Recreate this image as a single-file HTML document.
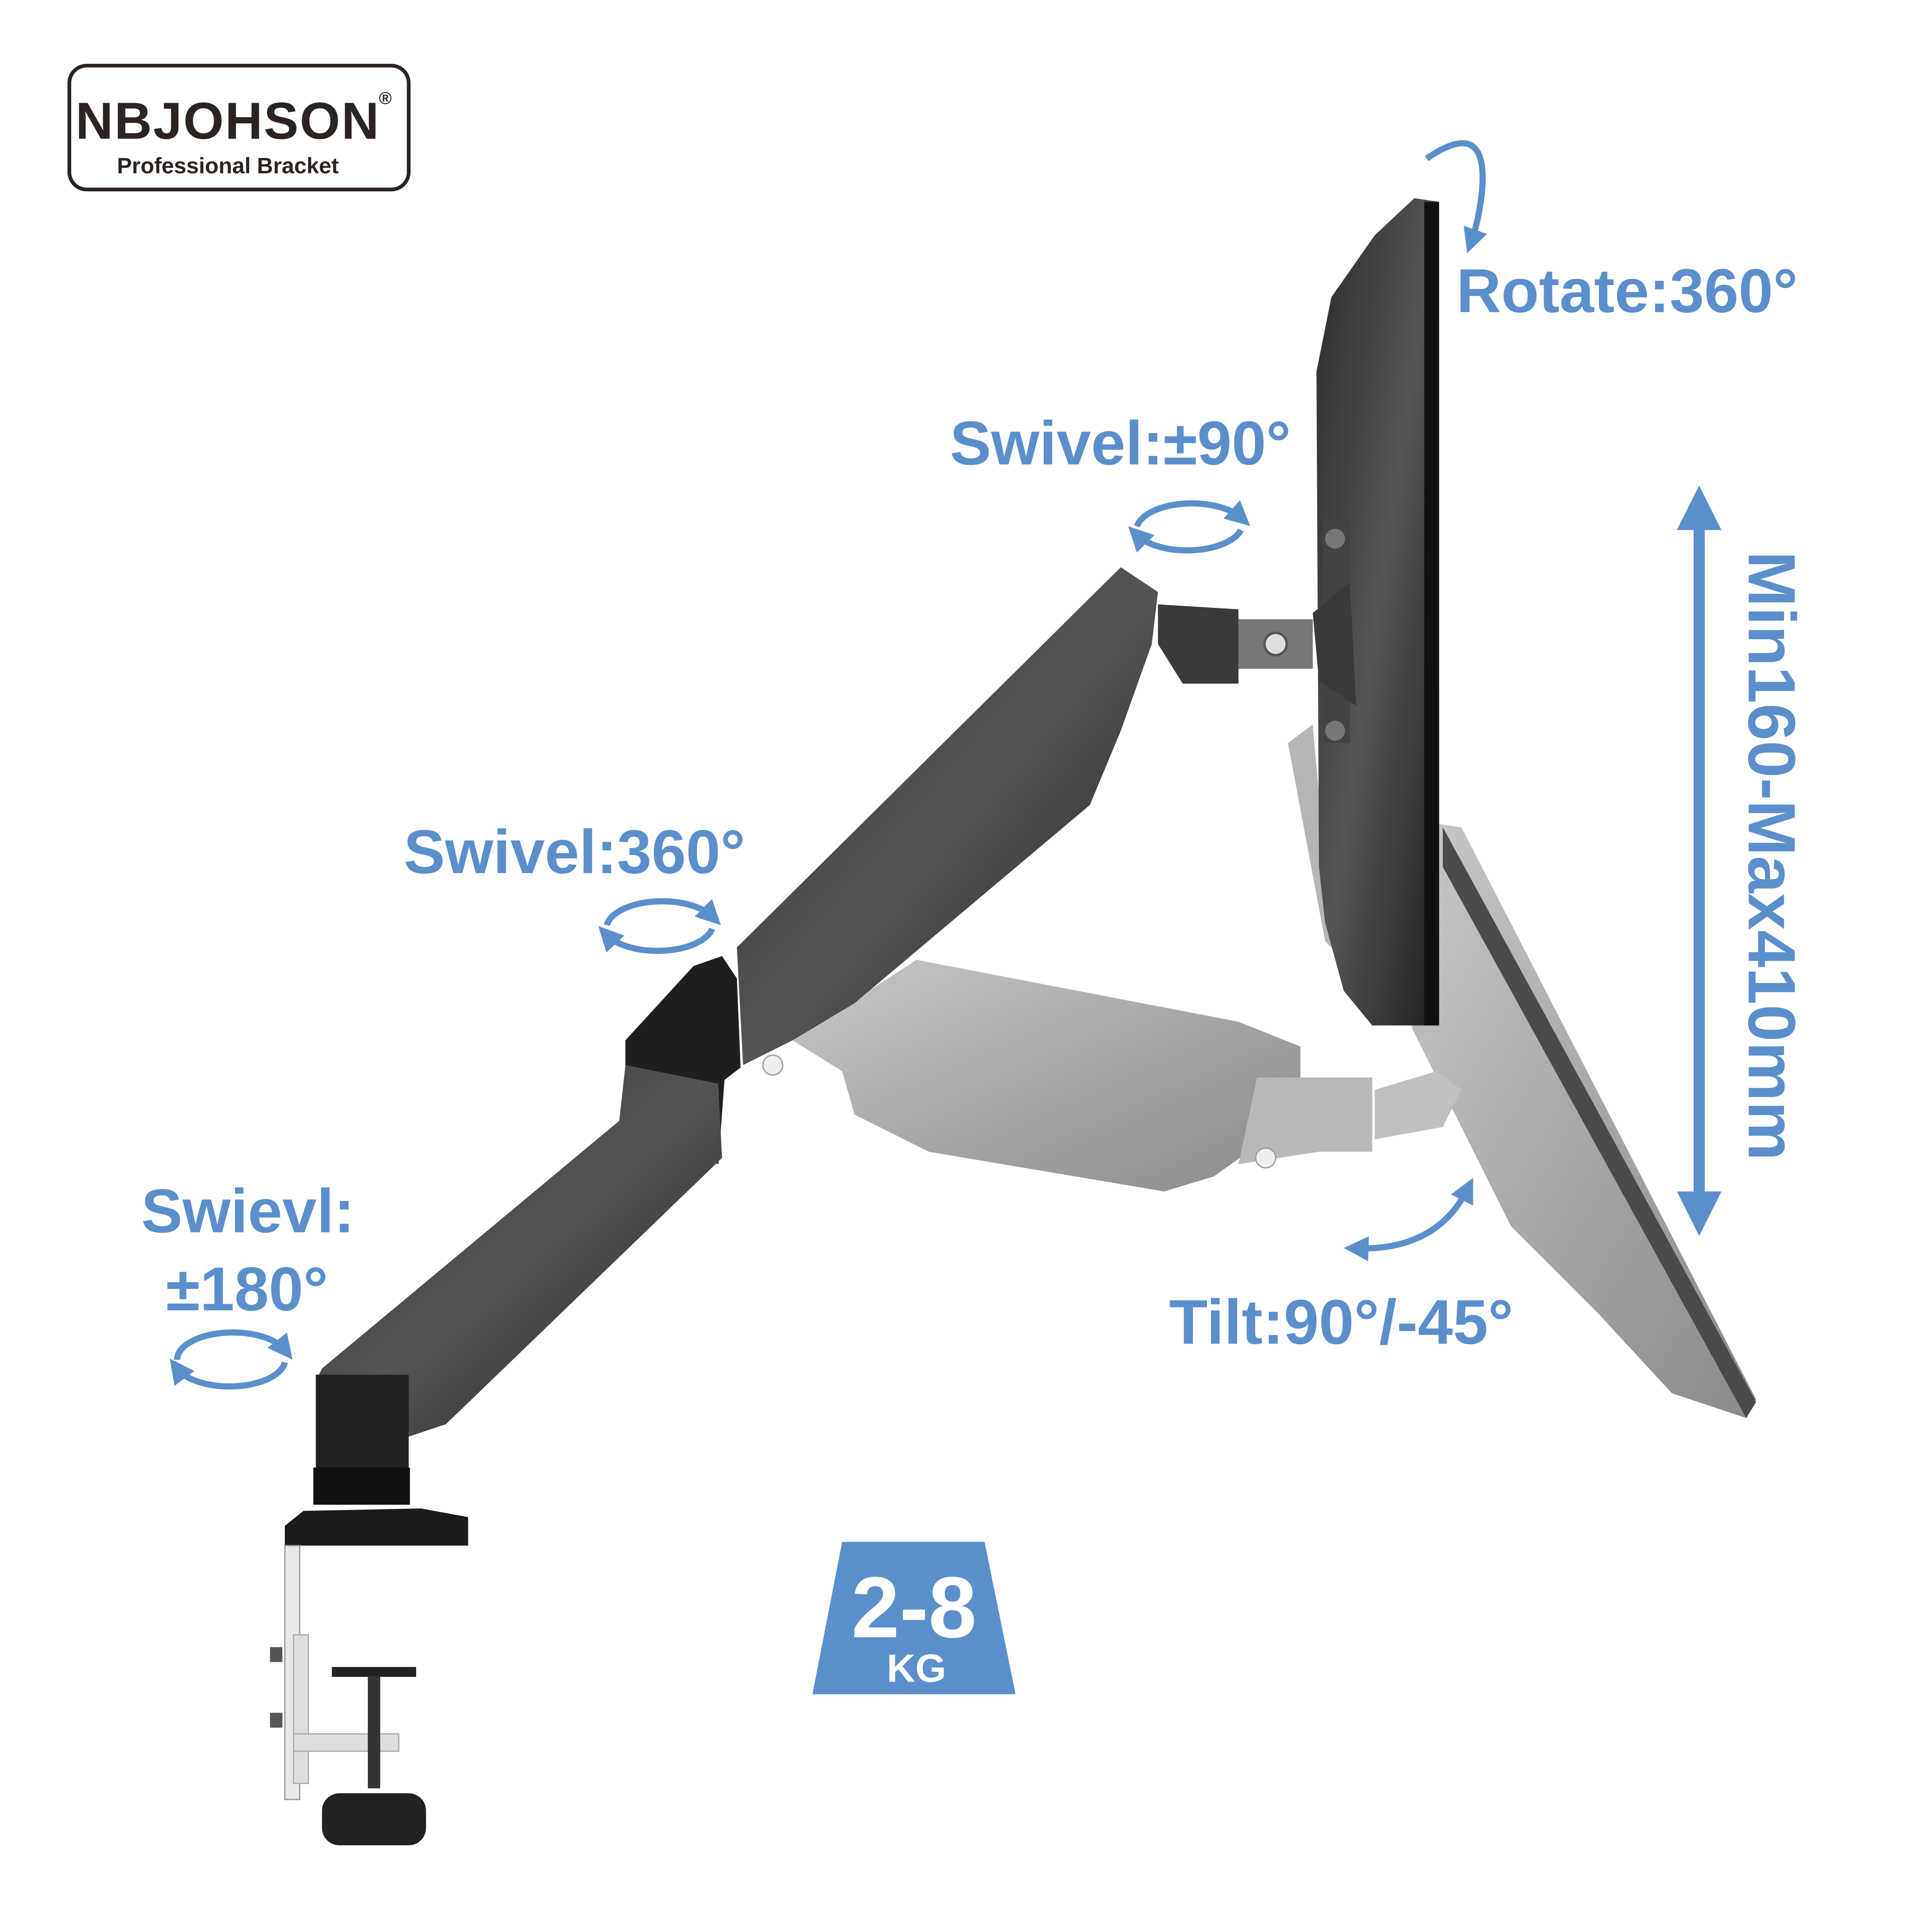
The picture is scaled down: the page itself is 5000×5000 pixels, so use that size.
<!DOCTYPE html>
<html><head><meta charset="utf-8"><style>
html,body{margin:0;padding:0;background:#fff;width:5000px;height:5000px;overflow:hidden}
svg{display:block}
text{font-family:"Liberation Sans",sans-serif;font-weight:bold}
</style></head><body>
<svg width="5000" height="5000" viewBox="0 0 1560 1560" xmlns="http://www.w3.org/2000/svg">
<defs>
<linearGradient id="dk" x1="0" y1="0" x2="1" y2="1"><stop offset="0" stop-color="#2a2a2a"/><stop offset="0.5" stop-color="#555"/><stop offset="1" stop-color="#1e1e1e"/></linearGradient>
<linearGradient id="lt" x1="0" y1="0" x2="1" y2="1"><stop offset="0" stop-color="#c8c8c8"/><stop offset="0.5" stop-color="#a8a8a8"/><stop offset="1" stop-color="#8a8a8a"/></linearGradient>
<marker id="ah" viewBox="0 0 10 10" refX="5" refY="5" markerWidth="4" markerHeight="4" orient="auto-start-reverse"><path d="M0,0 L10,5 L0,10 z" fill="#5b8fcc"/></marker>
</defs>
<rect width="1560" height="1560" fill="#fff"/>
<rect x="56" y="53" width="274" height="100" rx="14" fill="#fff" stroke="#2b2420" stroke-width="3"/>
<text x="184" y="112" font-size="42" text-anchor="middle" fill="#2b2420" letter-spacing="1">NBJOHSON</text>
<text x="306" y="84" font-size="14" fill="#2b2420" font-weight="normal">®</text>
<text x="184" y="140" font-size="18" text-anchor="middle" fill="#2b2420" font-weight="normal">Professional Bracket</text>

<polygon points="1160,665 1180,668 1418,1130 1410,1145 1350,1125 1290,1060 1220,990 1165,880 1140,830" fill="url(#lt)"/>
<polygon points="1165,668 1418,1132 1410,1145 1165,700" fill="#4a4a4a"/>
<polygon points="1040,600 1060,585 1070,700 1090,780 1070,760" fill="#b5b5b5"/>

<polygon points="640,840 740,775 1000,825 1050,845 1050,900 980,950 940,962 750,930 690,900 680,865" fill="url(#lt)"/>
<polygon points="1015,870 1108,870 1108,930 1065,930 1000,940" fill="#b8b8b8"/>
<circle cx="1138" cy="903" r="9" fill="#ddd" stroke="#777" stroke-width="2"/>
<polygon points="1110,880 1160,865 1180,880 1165,910 1110,920" fill="#c0c0c0"/>
<circle cx="1022" cy="935" r="8" fill="#eee" stroke="#999"/>
<circle cx="624" cy="860" r="8" fill="#eee" stroke="#999"/>

<polygon points="1142,160 1162,163 1162,828 1140,828 1108,828 1085,800 1070,745 1065,700 1063,300 1075,240 1110,190" fill="url(#dk)"/>
<rect x="1150" y="163" width="12" height="665" fill="#111"/>
<rect x="1068" y="420" width="22" height="180" fill="#444"/>
<circle cx="1078" cy="435" r="8" fill="#777"/><circle cx="1078" cy="590" r="8" fill="#777"/>

<polygon points="595,765 905,458 935,478 930,520 905,590 880,650 690,810 640,840 600,860" fill="url(#dk)"/>
<polygon points="935,488 1000,492 1000,552 955,552 935,520" fill="#3a3a3a"/>
<rect x="1000" y="500" width="60" height="40" fill="#777"/>
<circle cx="1030" cy="520" r="9" fill="#ddd" stroke="#555" stroke-width="2"/>
<polygon points="1060,495 1090,470 1095,570 1065,550" fill="#3a3a3a"/>

<polygon points="505,840 560,780 583,772 595,790 598,862 585,872 580,940 505,915" fill="#1f1f1f"/>
<polygon points="505,860 580,875 583,935 360,1150 330,1160 290,1160 255,1115 260,1105 500,905" fill="url(#dk)"/>
<rect x="255" y="1110" width="75" height="80" fill="#222"/>
<rect x="253" y="1185" width="78" height="30" fill="#111"/>
<polygon points="245,1220 340,1218 378,1225 378,1248 230,1248 230,1232" fill="#1a1a1a"/>
<rect x="230" y="1248" width="12" height="205" fill="#e8e8e8" stroke="#999"/>
<rect x="237" y="1320" width="12" height="120" fill="#ddd" stroke="#aaa"/>
<rect x="237" y="1400" width="85" height="14" fill="#ddd" stroke="#aaa"/>
<rect x="218" y="1330" width="10" height="12" fill="#555"/><rect x="218" y="1383" width="10" height="12" fill="#555"/>
<rect x="268" y="1346" width="68" height="8" fill="#222"/>
<rect x="297" y="1354" width="10" height="90" fill="#333"/>
<rect x="260" y="1448" width="84" height="42" rx="14" fill="#222"/>

<g fill="#5b8fcc">
<text x="1176" y="252" font-size="50">Rotate:360°</text>
<text x="767" y="375" font-size="50">Swivel:±90°</text>
<text x="326" y="705" font-size="50">Swivel:360°</text>
<text x="114" y="995" font-size="50">Swievl:</text>
<text x="134" y="1058" font-size="50">±180°</text>
<text x="944" y="1085" font-size="51">Tilt:90°/-45°</text>
<text transform="translate(1412,445) rotate(90)" font-size="54">Min160-Max410mm</text>
</g>
<g fill="none" stroke="#5b8fcc" stroke-width="5">
<line x1="1372" y1="410" x2="1372" y2="980" stroke-width="9" marker-start="url(#ah)" marker-end="url(#ah)"/>
<path d="M1152,128 Q1200,95 1197,150 Q1195,175 1188,195" marker-end="url(#ah)"/>
<path d="M918,425 A45,22 0 0 1 1002,418" marker-end="url(#ah)"/>
<path d="M1002,428 A45,22 0 0 1 918,432" marker-end="url(#ah)"/>
<path d="M490,747 A45,22 0 0 1 575,740" marker-end="url(#ah)"/>
<path d="M575,750 A45,22 0 0 1 490,755" marker-end="url(#ah)"/>
<path d="M143,1098 A45,22 0 0 1 230,1090" marker-end="url(#ah)"/>
<path d="M230,1100 A45,22 0 0 1 143,1105" marker-end="url(#ah)"/>
<path d="M1095,1008 Q1160,1010 1185,960" marker-start="url(#ah)" marker-end="url(#ah)"/>
</g>
<polygon points="680,1245 795,1245 820,1368 656,1368" fill="#5b8fcc"/>
<text x="738" y="1322" font-size="70" text-anchor="middle" fill="#fff">2-8</text>
<text x="740" y="1358" font-size="32" text-anchor="middle" fill="#fff">KG</text>
</svg>
</body></html>
